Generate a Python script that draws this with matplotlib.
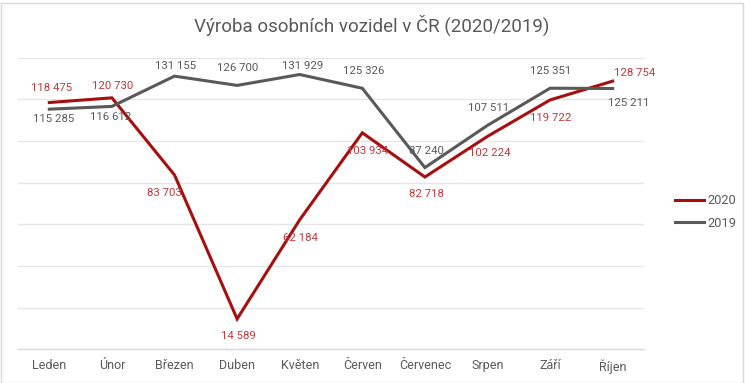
import matplotlib
matplotlib.use("Agg")
import matplotlib.pyplot as plt
from matplotlib.patches import Rectangle

months = ["Leden", "Únor", "Březen", "Duben", "Květen", "Červen", "Červenec", "Srpen", "Září", "Říjen"]
v2020 = [118475, 120730, 83703, 14589, 62184, 103934, 82718, 102224, 119722, 128754]
v2019 = [115285, 116612, 131155, 126700, 131929, 125326, 87240, 107511, 125351, 125211]

# label offsets in pixels (dx, dy), dy positive = up
off2020 = [(2, 15), (1, 12), (-10, -18), (1, -17), (1, -18), (5, -18), (2, -17), (2, -17), (1, -18), (22, 8)]
off2019 = [(4, -10), (-1, -11), (1, 10), (1, 17), (3, 8.5), (1, 17), (2, 16.5), (1, 17), (1, 17.5), (16, -14)]

FONT = ["Roboto", "DejaVu Sans"]
plt.rcParams['font.family'] = FONT

RED = "#A50F0F"
RED_TXT = "#C0393B"
GRAY = "#595959"

def fmt(v):
    return f"{v:,}".replace(",", " ")

fig = plt.figure(figsize=(7.45, 3.83), dpi=100)
ax = fig.add_axes([18/745, 1 - 349.3/383, (644-18)/745, (349.3-57.7)/383])

x = list(range(len(months)))
ax.plot(x, v2020, color=RED, lw=2.2, label="2020", solid_joinstyle="miter", zorder=3)
ax.plot(x, v2019, color=GRAY, lw=2.2, label="2019", solid_joinstyle="miter", zorder=3)

for i, v in enumerate(v2020):
    dx, dy = off2020[i]
    ax.annotate(fmt(v), (i, v), xytext=(dx, dy), textcoords="offset pixels",
                ha="center", va="center", fontsize=8.2, color=RED_TXT, zorder=4)
for i, v in enumerate(v2019):
    dx, dy = off2019[i]
    ax.annotate(fmt(v), (i, v), xytext=(dx, dy), textcoords="offset pixels",
                ha="center", va="center", fontsize=8.2, color=GRAY, zorder=4)

ax.set_xlim(-0.5, len(months) - 0.5)
ax.set_ylim(0, 140000)
ax.set_yticks(range(0, 140001, 20000))
ax.yaxis.grid(True, color="#E6E6E6", lw=1)
ax.set_axisbelow(True)
ax.tick_params(axis="y", left=False, labelleft=False)
ax.set_xticks(x)
ax.set_xticklabels(months, fontsize=9, color=GRAY)
ax.tick_params(axis="x", length=0, pad=7)
for s in ["top", "right", "left"]:
    ax.spines[s].set_visible(False)
ax.spines["bottom"].set_color("#D9D9D9")
ax.spines["bottom"].set_linewidth(1)

fig.text(372/745, 1 - 25/383, "Výroba osobních vozidel v ČR (2020/2019)", ha="center", va="center",
         fontsize=13.5, color=GRAY)

leg = fig.legend(loc="center left", bbox_to_anchor=(663/745, 1 - 212/383), frameon=False,
                 prop={"size": 9.3}, handlelength=2.3, handletextpad=0.25,
                 labelspacing=0.75, labelcolor=GRAY)

fig.patches.append(Rectangle((0.5/745, 0.5/383), 1 - 3/745, 1 - 3/383, transform=fig.transFigure,
                             fill=False, edgecolor="#D9D9D9", lw=1))

fig.savefig("out.png", dpi=100)
